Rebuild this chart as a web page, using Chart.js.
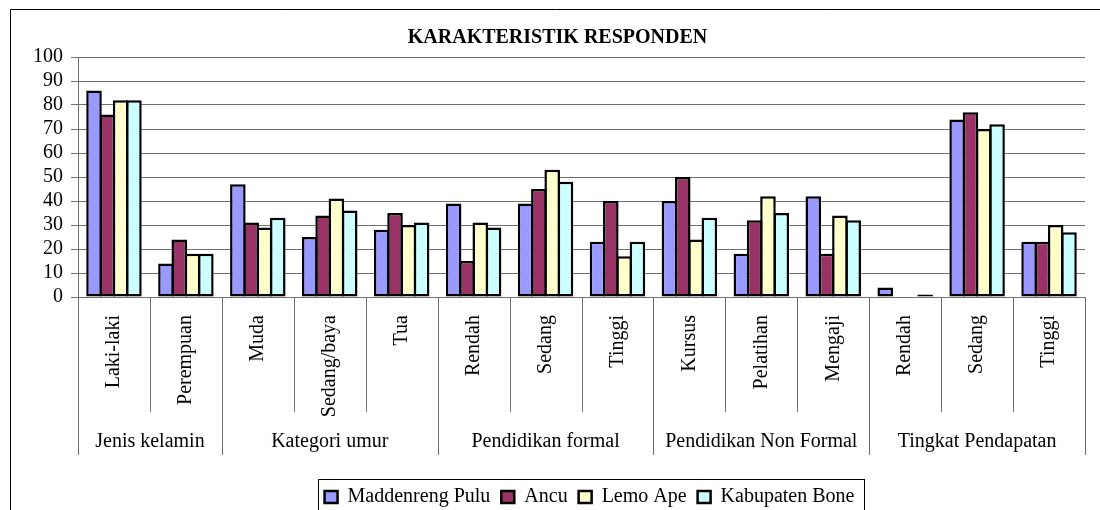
<!DOCTYPE html>
<html>
<head>
<meta charset="utf-8">
<title>Karakteristik Responden</title>
<script src="https://cdn.jsdelivr.net/npm/chart.js@4.4.1/dist/chart.umd.min.js"></script>
<style>
  body { margin: 0; background: #fff; }
  #wrap { width: 1100px; height: 510px; }
</style>
</head>
<body>
<div id="wrap"><canvas id="chart" width="1100" height="510"></canvas></div>
<script>
// data
const categories = ["Laki-laki", "Perempuan", "Muda", "Sedang/baya", "Tua",
  "Rendah", "Sedang", "Tinggi", "Kursus", "Pelatihan", "Mengaji",
  "Rendah", "Sedang", "Tinggi"];
const groups = ["Jenis kelamin", "Kategori umur", "Pendidikan formal",
  "Pendidikan Non Formal", "Tingkat Pendapatan"];
const groupSizes = [2, 3, 3, 3, 3];

const maddenrengPulu = [86, 14, 47, 25, 28, 39, 39, 23, 40, 18, 42, 4, 74, 23];
const ancu           = [76, 24, 31, 34, 35, 15, 45, 40, 50, 32, 18, 0, 77, 23];
const lemoApe        = [82, 18, 29, 41, 30, 31, 53, 17, 24, 42, 34, 0, 70, 30];
const kabupatenBone  = [82, 18, 33, 36, 31, 29, 48, 23, 33, 35, 32, 1, 72, 27];

const yMin = 0, yMax = 100, yStep = 10;

const serif = "'Liberation Serif', 'Times New Roman', serif";
Chart.defaults.font.family = serif;
Chart.defaults.color = "#000";

// outer frame of the chart object (runs off the right and bottom edges)
const framePlugin = {
  id: "frame",
  beforeDraw(chart) {
    const ctx = chart.ctx;
    ctx.save();
    ctx.strokeStyle = "#000";
    ctx.lineWidth = 1;
    ctx.beginPath();
    ctx.moveTo(10.5, 520);
    ctx.lineTo(10.5, 9.5);
    ctx.lineTo(1100, 9.5);
    ctx.stroke();
    ctx.restore();
  }
};

// second axis level: separators + group names, and the box round the legend
const groupAxisPlugin = {
  id: "groupAxis",
  afterLayout(chart) {
    chart.legend.left += 8;
    chart.legend.right += 8;
  },
  afterDraw(chart) {
    const { ctx, chartArea } = chart;
    const xs = chart.scales.x;
    const base = chartArea.bottom;
    const n = categories.length;
    const edge = (i) => {
      if (i === 0) return chartArea.left;
      if (i === n) return chartArea.right;
      return (xs.getPixelForValue(i - 1) + xs.getPixelForValue(i)) / 2;
    };
    const groupEdges = [0];
    groupSizes.forEach((s) => groupEdges.push(groupEdges[groupEdges.length - 1] + s));

    ctx.save();
    ctx.strokeStyle = "#707070";
    ctx.lineWidth = 1;
    for (let i = 0; i <= n; i++) {
      const px = Math.round(edge(i)) + 0.5;
      const end = groupEdges.includes(i) ? base + 158 : base + 115;
      ctx.beginPath();
      ctx.moveTo(px, base);
      ctx.lineTo(px, end);
      ctx.stroke();
    }

    ctx.fillStyle = "#000";
    ctx.font = "20px " + serif;
    ctx.textAlign = "center";
    ctx.textBaseline = "alphabetic";
    groups.forEach((g, k) => {
      const cx = (edge(groupEdges[k]) + edge(groupEdges[k + 1])) / 2;
      ctx.fillText(g, cx, base + 150);
    });

    const lg = chart.legend;
    const pad = lg.options.labels.padding;
    const x0 = (lg.left + pad + lg.right - lg.lineWidths[0]) / 2;
    const x1 = x0 + lg.lineWidths[0] - pad;
    ctx.strokeStyle = "#000";
    ctx.strokeRect(Math.round(x0 - 7) + 0.5, Math.round(lg.top + 3) + 0.5,
      Math.round(x1 - x0 + 16), 60);
    ctx.restore();
  }
};

const barStyle = { borderColor: "#000", borderWidth: 2.5, borderSkipped: false };

new Chart(document.getElementById("chart"), {
  type: "bar",
  data: {
    labels: categories,
    datasets: [
      { label: "Maddenreng Pulu", data: maddenrengPulu, backgroundColor: "#9999FF", ...barStyle },
      { label: "Ancu", data: ancu, backgroundColor: "#993366", ...barStyle },
      { label: "Lemo Ape", data: lemoApe, backgroundColor: "#FFFFCC", ...barStyle },
      { label: "Kabupaten Bone", data: kabupatenBone, backgroundColor: "#CCFFFF", ...barStyle }
    ]
  },
  options: {
    responsive: false,
    animation: false,
    layout: { padding: { left: 30, right: 15, top: 0, bottom: -7 } },
    datasets: {
      bar: { categoryPercentage: 0.74, barPercentage: 1.17 }
    },
    plugins: {
      title: {
        display: true,
        text: "KARAKTERISTIK RESPONDEN",
        color: "#000",
        font: { family: serif, size: 20, weight: "bold" },
        padding: { top: 26, bottom: 7 }
      },
      legend: {
        position: "bottom",
        fullSize: false,
        labels: {
          boxWidth: 13,
          boxHeight: 12,
          padding: 11,
          color: "#000",
          font: { family: serif, size: 20 }
        }
      },
      tooltip: { enabled: false }
    },
    scales: {
      x: {
        grid: { drawOnChartArea: false, drawTicks: false },
        border: { color: "#707070" },
        ticks: {
          color: "#000",
          font: { family: serif, size: 20 },
          minRotation: 90,
          maxRotation: 90,
          autoSkip: false,
          padding: 18
        },
        afterFit(scale) { scale.height = 179; }
      },
      y: {
        min: yMin,
        max: yMax,
        grid: { color: "#707070", tickLength: 7, tickColor: "#707070" },
        border: { color: "#707070" },
        ticks: {
          stepSize: yStep,
          autoSkip: false,
          color: "#000",
          font: { family: serif, size: 20 },
          padding: 8
        },
        afterFit(scale) { scale.width = 48; }
      }
    }
  },
  plugins: [framePlugin, groupAxisPlugin]
});
</script>
</body>
</html>
